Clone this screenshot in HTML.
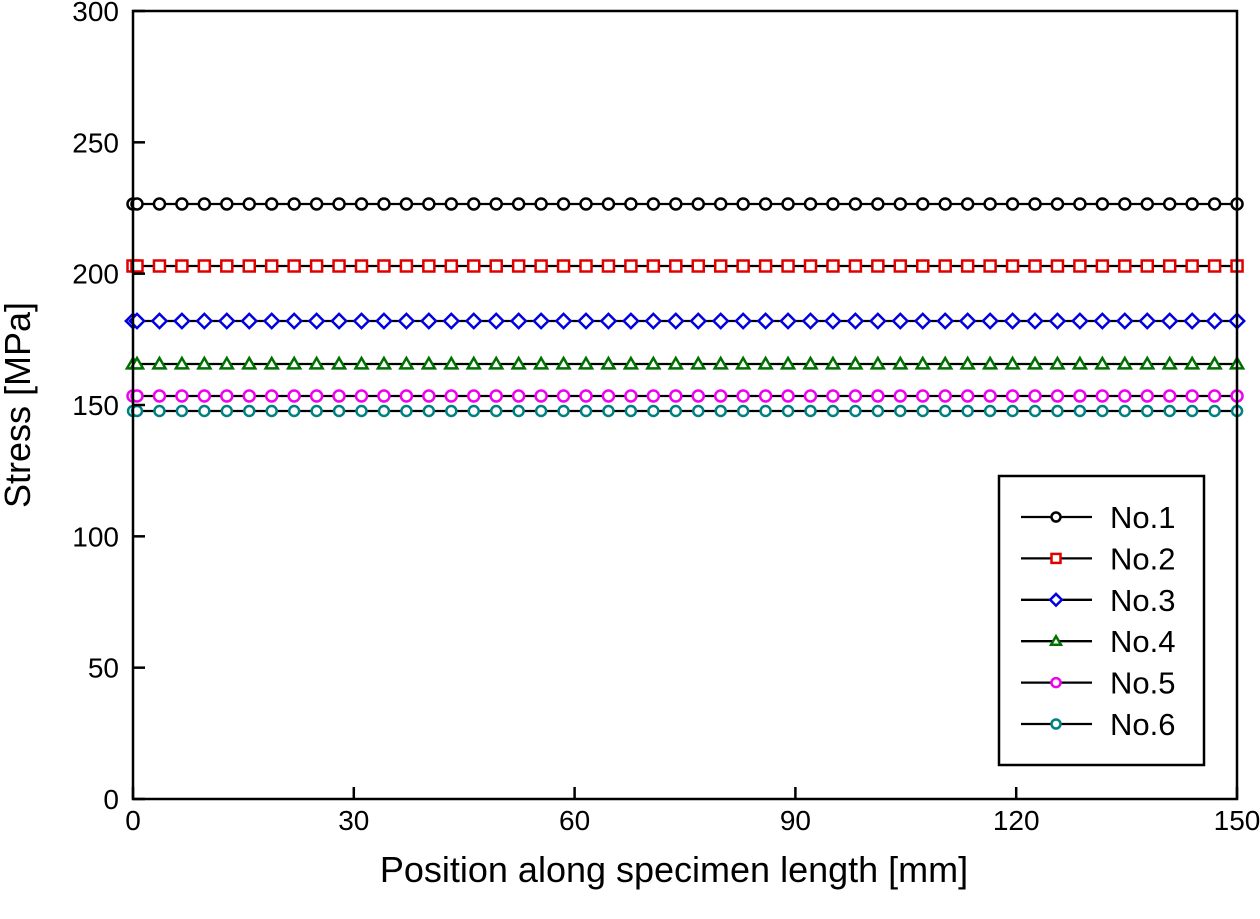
<!DOCTYPE html>
<html><head><meta charset="utf-8"><style>body{margin:0;background:#fff}svg{display:block}</style></head><body>
<svg id="s" width="1260" height="919" xmlns="http://www.w3.org/2000/svg" font-family="Liberation Sans, Arial, sans-serif">
<rect width="1260" height="919" fill="#fff"/>
<g id="series"></g>
<rect x="133" y="11" width="1104" height="788" fill="none" stroke="#000" stroke-width="2.5"/>
<g stroke="#000" stroke-width="2.5" id="ticks"></g>
<g font-size="28" text-anchor="end" id="ylab"></g>
<g font-size="28" text-anchor="middle" id="xlab"></g>
<text x="674" y="882" font-size="36" text-anchor="middle">Position along specimen length [mm]</text>
<text transform="translate(30,405) rotate(-90)" font-size="36" text-anchor="middle">Stress [MPa]</text>
<rect x="999" y="476" width="205" height="289" fill="#fff" stroke="#000" stroke-width="2.5"/>
<g id="leg"></g>
</svg>
<script>
const ns="http://www.w3.org/2000/svg";
function el(p,t,a,txt){const e=document.createElementNS(ns,t);for(const k in a)e.setAttribute(k,a[k]);if(txt!==undefined)e.textContent=txt;p.appendChild(e);return e;}
const yv=v=>799-v*788/300, xv=v=>133+v*1104/150;
const T=document.getElementById('ticks'),YL=document.getElementById('ylab'),XL=document.getElementById('xlab');
for(let v=0;v<=300;v+=50){const y=yv(v);el(T,'line',{x1:133,x2:145,y1:y,y2:y});el(YL,'text',{x:119,y:y+10},v);}
for(let v=0;v<=150;v+=30){const x=xv(v);el(T,'line',{x1:x,x2:x,y1:799,y2:787});el(XL,'text',{x:x,y:830},v);}
function marker(g,type,color,x,y,r){
 const a={fill:'#fff',stroke:color,'stroke-width':2.5};
 if(type=='c')el(g,'circle',Object.assign({cx:x,cy:y,r:r},a));
 else if(type=='s')el(g,'rect',Object.assign({x:x-r,y:y-r,width:2*r,height:2*r},a));
 else if(type=='d')el(g,'polygon',Object.assign({points:`${x-r*1.3},${y} ${x},${y-r*1.3} ${x+r*1.3},${y} ${x},${y+r*1.3}`},a));
 else if(type=='t')el(g,'polygon',Object.assign({points:`${x-r*1.1},${y+r*0.8} ${x},${y-r*1.1} ${x+r*1.1},${y+r*0.8}`},a));
}
const S=[[204,'c','#000'],[266,'s','#e00000'],[321,'d','#0000e0'],[364,'t','#007000'],[396,'c','#f000f0'],[411,'c','#008080']];
const G=document.getElementById('series'),L=document.getElementById('leg');
const xs=[133];for(let k=0;k<=49;k++)xs.push(137+k*22.45);
S.forEach((s,i)=>{
 el(G,'line',{x1:133,x2:1237,y1:s[0],y2:s[0],stroke:'#000','stroke-width':2.3});
 xs.forEach(x=>marker(G,s[1],s[2],x,s[0],i==5?5:5.5));
 const ly=517+i*41.4;
 el(L,'line',{x1:1021,x2:1092,y1:ly,y2:ly,stroke:'#000','stroke-width':2.3});
 marker(L,s[1],s[2],1056,ly,4.5);
 el(L,'text',{x:1110,y:ly+11,'font-size':31},'No.'+(i+1));
});
</script>
</body></html>
